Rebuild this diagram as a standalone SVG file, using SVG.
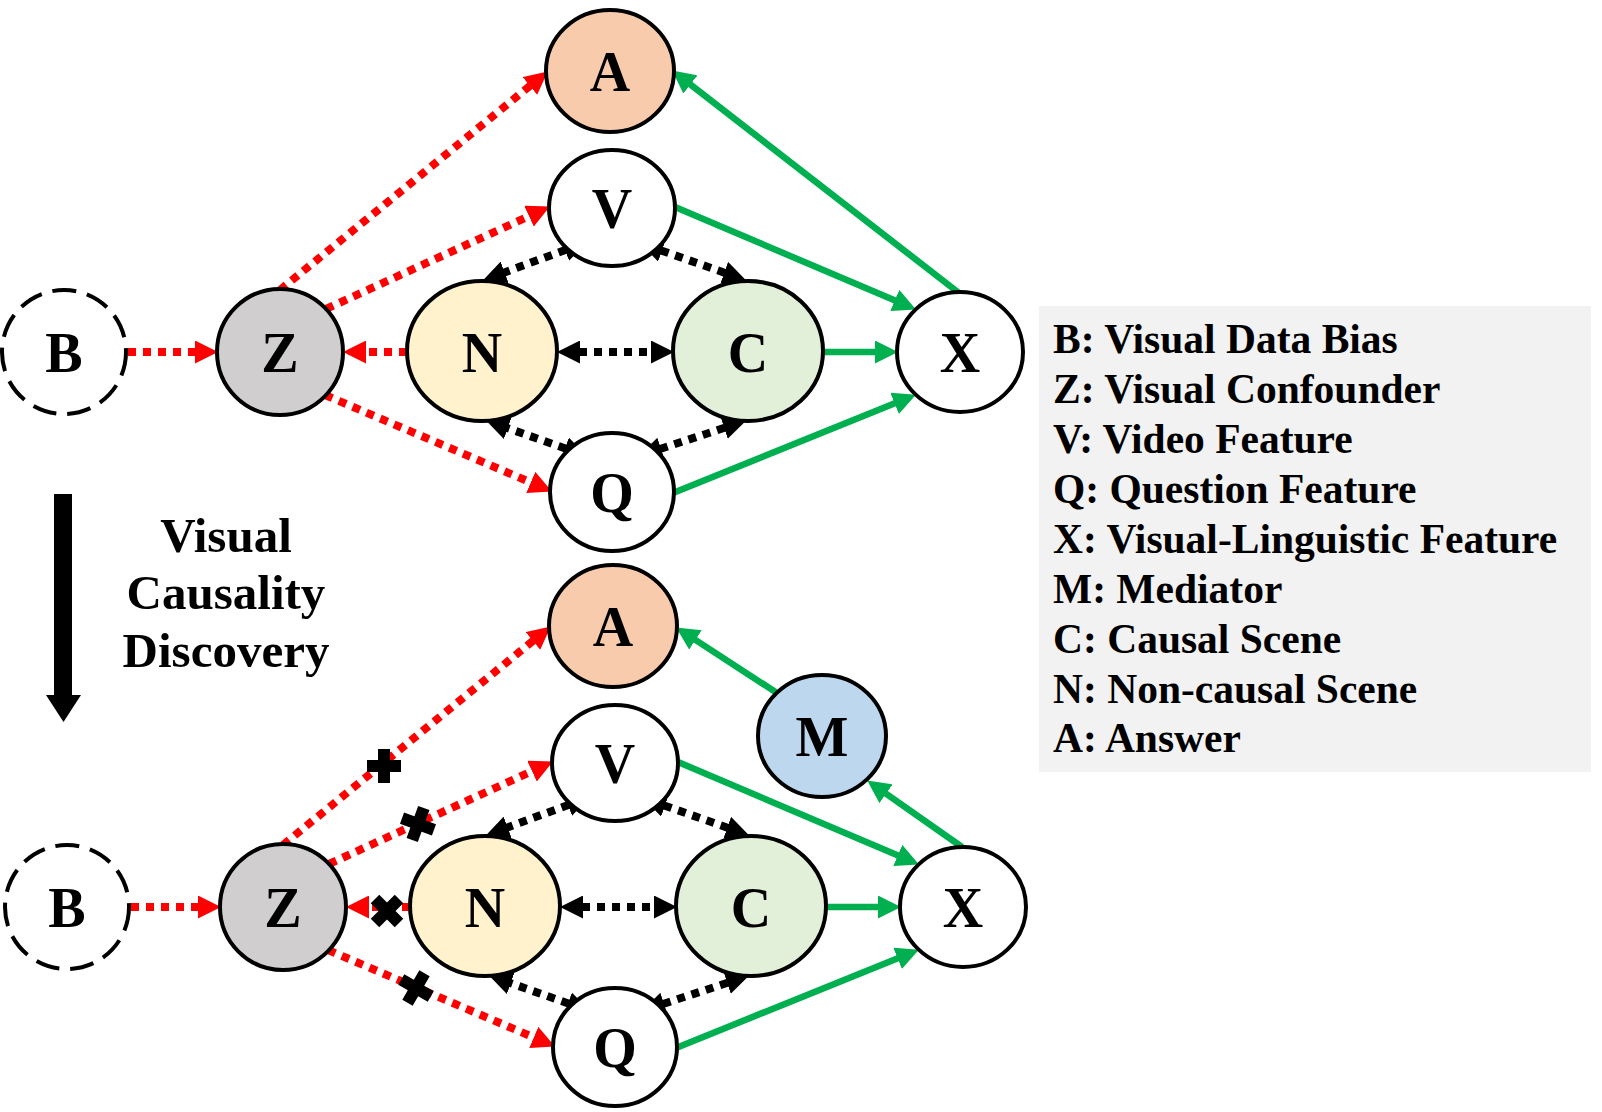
<svg xmlns="http://www.w3.org/2000/svg" width="1602" height="1112" viewBox="0 0 1602 1112">
<style>
.node{stroke:#000;stroke-width:4}
.dash{stroke-dasharray:24 11}
.lbl{font-family:"Liberation Serif","Times New Roman",serif;font-weight:bold;font-size:56px;text-anchor:middle;fill:#000}
.red{stroke:#ff0000;stroke-width:8;stroke-dasharray:8 7;fill:none;marker-end:url(#ar)}
.blk{stroke:#000;stroke-width:8;stroke-dasharray:8 7;fill:none;marker-end:url(#ab);marker-start:url(#ab)}
.grn{stroke:#00b050;stroke-width:6.5;fill:none;marker-end:url(#ag)}
.leg{font-family:"Liberation Serif","Times New Roman",serif;font-weight:bold;font-size:41.5px;fill:#000}
.side{font-family:"Liberation Serif","Times New Roman",serif;font-weight:bold;font-size:49px;fill:#000;text-anchor:middle}
</style>
<defs>
<marker id="ar" viewBox="0 0 23 23" refX="1" refY="11.5" markerWidth="23" markerHeight="23" markerUnits="userSpaceOnUse" orient="auto-start-reverse"><path d="M0,0 L23,11.5 L0,23 z" fill="#ff0000" stroke="none"/></marker>
<marker id="ab" viewBox="0 0 23 23" refX="1" refY="11.5" markerWidth="23" markerHeight="23" markerUnits="userSpaceOnUse" orient="auto-start-reverse"><path d="M0,0 L23,11.5 L0,23 z" fill="#000" stroke="none"/></marker>
<marker id="ag" viewBox="0 0 23 23" refX="1" refY="11.5" markerWidth="23" markerHeight="23" markerUnits="userSpaceOnUse" orient="auto-start-reverse"><path d="M0,0 L23,11.5 L0,23 z" fill="#00b050" stroke="none"/></marker>
<g id="cross"><rect x="-17" y="-6" width="34" height="12" fill="#000"/><rect x="-6" y="-17" width="12" height="34" fill="#000"/></g>
</defs>
<rect width="1602" height="1112" fill="#fff"/>

<g id="connectors">
  <!-- top graph -->
  <line class="red" x1="128" y1="352" x2="196" y2="352"/>
  <line class="red" x1="280" y1="290" x2="530.7" y2="85.3"/>
  <line class="red" x1="326" y1="309" x2="529.9" y2="215.7"/>
  <line class="red" x1="407" y1="352" x2="365" y2="352"/>
  <line class="red" x1="325" y1="395" x2="531.7" y2="482.8"/>
  <line class="blk" x1="566" y1="249.7" x2="503.7" y2="272.7"/>
  <line class="blk" x1="661" y1="250.4" x2="725.2" y2="273"/>
  <line class="blk" x1="579" y1="352" x2="652" y2="352"/>
  <line class="blk" x1="566" y1="448.7" x2="506.8" y2="427.9"/>
  <line class="blk" x1="660" y1="449" x2="725.1" y2="427.6"/>
  <line class="grn" x1="675" y1="207" x2="895.7" y2="300.8"/>
  <line class="grn" x1="823" y1="352" x2="876" y2="352"/>
  <line class="grn" x1="673" y1="493" x2="895.5" y2="402.9"/>
  <line class="grn" x1="959" y1="293" x2="689.6" y2="83.9"/>
  <!-- bottom graph -->
  <line class="red" x1="131" y1="907" x2="199" y2="907"/>
  <line class="red" x1="283" y1="845" x2="533.7" y2="640.3"/>
  <line class="red" x1="329" y1="864" x2="532.9" y2="770.7"/>
  <line class="red" x1="410" y1="907" x2="368" y2="907"/>
  <line class="red" x1="328" y1="950" x2="534.7" y2="1037.8"/>
  <line class="blk" x1="569" y1="804.7" x2="506.7" y2="827.7"/>
  <line class="blk" x1="664" y1="805.4" x2="728.2" y2="828"/>
  <line class="blk" x1="582" y1="907" x2="655" y2="907"/>
  <line class="blk" x1="569" y1="1003.7" x2="509.8" y2="982.9"/>
  <line class="blk" x1="663" y1="1004" x2="728.1" y2="982.6"/>
  <line class="grn" x1="678" y1="762" x2="898.7" y2="855.8"/>
  <line class="grn" x1="826" y1="907" x2="879" y2="907"/>
  <line class="grn" x1="676" y1="1048" x2="898.5" y2="957.9"/>
  <line class="grn" x1="777" y1="693" x2="694.6" y2="639.4"/>
  <line class="grn" x1="962" y1="847" x2="885.2" y2="793.1"/>
</g>

<!-- top graph nodes -->
<g id="top-A"><ellipse class="node" cx="610" cy="71" rx="64" ry="61" fill="#f8cbad"/><text class="lbl" x="610" y="91">A</text></g>
<g id="top-V"><ellipse class="node" cx="612" cy="208" rx="63" ry="58" fill="#fff"/><text class="lbl" x="612" y="228">V</text></g>
<g id="top-B"><ellipse class="node dash" cx="64" cy="352" rx="62" ry="62" fill="#fff"/><text class="lbl" x="64" y="372">B</text></g>
<g id="top-Z"><ellipse class="node" cx="280" cy="352" rx="63" ry="63" fill="#d0cece"/><text class="lbl" x="280" y="372">Z</text></g>
<g id="top-N"><ellipse class="node" cx="482" cy="351" rx="75" ry="70" fill="#fff2cc"/><text class="lbl" x="482" y="372">N</text></g>
<g id="top-C"><ellipse class="node" cx="748" cy="351" rx="75" ry="70" fill="#e2f0d9"/><text class="lbl" x="748" y="372">C</text></g>
<g id="top-X"><ellipse class="node" cx="960" cy="352" rx="63" ry="60" fill="#fff"/><text class="lbl" x="960" y="372">X</text></g>
<g id="top-Q"><ellipse class="node" cx="612" cy="492" rx="62" ry="59" fill="#fff"/><text class="lbl" x="612" y="512">Q</text></g>

<!-- bottom graph nodes -->
<g id="bot-A"><ellipse class="node" cx="613" cy="626" rx="64" ry="61" fill="#f8cbad"/><text class="lbl" x="613" y="646">A</text></g>
<g id="bot-V"><ellipse class="node" cx="615" cy="763" rx="63" ry="58" fill="#fff"/><text class="lbl" x="615" y="783">V</text></g>
<g id="bot-M"><ellipse class="node" cx="822" cy="736" rx="64" ry="61" fill="#bdd7ee"/><text class="lbl" x="822" y="756">M</text></g>
<g id="bot-B"><ellipse class="node dash" cx="67" cy="907" rx="62" ry="62" fill="#fff"/><text class="lbl" x="67" y="927">B</text></g>
<g id="bot-Z"><ellipse class="node" cx="283" cy="907" rx="63" ry="63" fill="#d0cece"/><text class="lbl" x="283" y="927">Z</text></g>
<g id="bot-N"><ellipse class="node" cx="485" cy="906" rx="75" ry="70" fill="#fff2cc"/><text class="lbl" x="485" y="927">N</text></g>
<g id="bot-C"><ellipse class="node" cx="751" cy="906" rx="75" ry="70" fill="#e2f0d9"/><text class="lbl" x="751" y="927">C</text></g>
<g id="bot-X"><ellipse class="node" cx="963" cy="907" rx="63" ry="60" fill="#fff"/><text class="lbl" x="963" y="927">X</text></g>
<g id="bot-Q"><ellipse class="node" cx="615" cy="1047" rx="62" ry="59" fill="#fff"/><text class="lbl" x="615" y="1067">Q</text></g>

<!-- cut marks -->
<g id="cuts">
  <use href="#cross" transform="translate(384,766)"/>
  <use href="#cross" transform="translate(418,824) rotate(20)"/>
  <use href="#cross" transform="translate(387,911) rotate(45)"/>
  <use href="#cross" transform="translate(416,988) rotate(30)"/>
</g>

<!-- process arrow and label -->
<g id="process">
  <rect x="54" y="494" width="18" height="203" fill="#000"/>
  <polygon points="46,695 81,695 63.5,722" fill="#000"/>
  <text class="side" x="226" y="552">Visual</text>
  <text class="side" x="226" y="609">Causality</text>
  <text class="side" x="226" y="667">Discovery</text>
</g>

<!-- legend -->
<g id="legend">
  <rect x="1039" y="306" width="552" height="466" fill="#f2f2f2"/>
  <text class="leg" x="1053" y="353">B: Visual Data Bias</text>
  <text class="leg" x="1053" y="403">Z: Visual Confounder</text>
  <text class="leg" x="1053" y="453">V: Video Feature</text>
  <text class="leg" x="1053" y="503">Q: Question Feature</text>
  <text class="leg" x="1053" y="553">X: Visual-Linguistic Feature</text>
  <text class="leg" x="1053" y="603">M: Mediator</text>
  <text class="leg" x="1053" y="653">C: Causal Scene</text>
  <text class="leg" x="1053" y="703">N: Non-causal Scene</text>
  <text class="leg" x="1053" y="752">A: Answer</text>
</g>
</svg>
